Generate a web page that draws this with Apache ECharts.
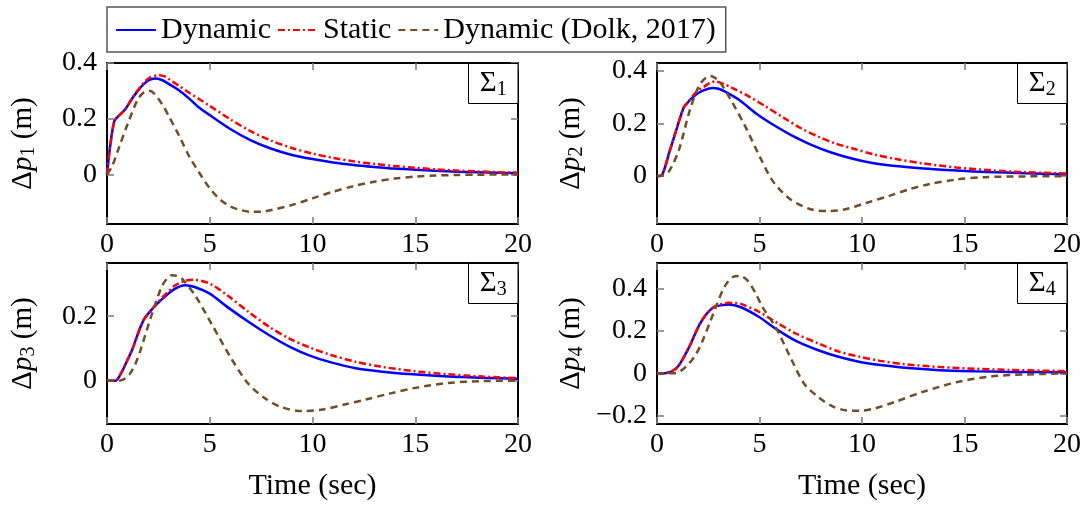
<!DOCTYPE html>
<html><head><meta charset="utf-8">
<script src="https://cdn.jsdelivr.net/npm/echarts@6/dist/echarts.min.js"></script>
<style>html,body{margin:0;padding:0;background:#fff}#c{width:1086px;height:505px}</style>
</head><body><div id="c"></div>
<script>
const FONT = '"Liberation Serif", "DejaVu Serif", serif';
const seriesNames = ['Dynamic', 'Static', 'Dynamic (Dolk, 2017)'];
const xTicks = [0, 5, 10, 15, 20];
const xTitle = 'Time (sec)';

// panel 1
const p1Dynamic = [[0,0],[0.15,0.1],[0.35,0.19],[0.5,0.205],[0.9,0.235],[1.2,0.27],[1.5,0.3],[1.8,0.325],[2.1,0.34],[2.4,0.344],[2.7,0.338],[3.0,0.325],[3.5,0.302],[4.0,0.272],[4.4,0.245],[5,0.213],[6,0.163],[7,0.122],[8,0.092],[9,0.07],[10,0.055],[11,0.043],[12,0.034],[13,0.027],[14,0.021],[15,0.017],[16,0.013],[17,0.01],[18,0.008],[19,0.006],[20,0.005]];
const p1Static = [[0,0],[0.15,0.1],[0.35,0.19],[0.5,0.205],[0.9,0.235],[1.2,0.27],[1.5,0.302],[1.8,0.33],[2.1,0.348],[2.5,0.356],[2.8,0.352],[3.0,0.343],[3.5,0.318],[4,0.293],[4.5,0.27],[5,0.246],[6,0.198],[7,0.155],[8,0.121],[9,0.095],[10,0.075],[11,0.059],[12,0.047],[13,0.038],[14,0.03],[15,0.024],[16,0.018],[17,0.014],[18,0.011],[19,0.008],[20,0.006]];
const p1Dolk = [[0,0],[0.25,0.03],[0.6,0.1],[1,0.18],[1.5,0.27],[1.8,0.295],[2.05,0.3],[2.3,0.29],[2.7,0.25],[3,0.21],[3.5,0.14],[4,0.065],[4.5,0.005],[5,-0.05],[5.5,-0.09],[6,-0.115],[6.5,-0.128],[7,-0.134],[7.5,-0.134],[8,-0.128],[9,-0.11],[10,-0.086],[11,-0.062],[12,-0.042],[13,-0.026],[14,-0.015],[15,-0.008],[16,-0.004],[17,-0.002],[18,-0.001],[20,0]];
const p1YRange = [-0.178, 0.4];
const p1YTicks = [0, 0.2, 0.4];

// panel 2
const p2Dynamic = [[0,0],[0.25,0.005],[0.6,0.09],[1.0,0.19],[1.3,0.26],[1.5,0.28],[1.75,0.3],[2.0,0.315],[2.3,0.327],[2.7,0.335],[3.0,0.332],[3.3,0.322],[4.0,0.29],[4.8,0.24],[5.65,0.196],[6.5,0.158],[7.5,0.12],[8.5,0.09],[9.5,0.067],[10.5,0.05],[11.5,0.039],[13,0.029],[14.5,0.022],[16,0.016],[18,0.011],[20,0.007]];
const p2Static = [[0,0],[0.25,0.005],[0.6,0.09],[1,0.19],[1.3,0.26],[1.5,0.28],[1.75,0.305],[2.0,0.325],[2.3,0.34],[2.6,0.355],[2.85,0.36],[3.2,0.352],[3.6,0.338],[4.5,0.302],[5.3,0.265],[6.2,0.221],[7,0.183],[7.9,0.149],[8.7,0.124],[9.6,0.104],[10.6,0.082],[11.6,0.066],[13,0.048],[14.6,0.033],[16.3,0.022],[18,0.015],[20,0.01]];
const p2Dolk = [[0,0],[0.3,0.003],[0.6,0.02],[1.07,0.1],[1.6,0.25],[2.1,0.35],[2.6,0.381],[2.8,0.375],[3.1,0.354],[3.6,0.29],[4.3,0.19],[5,0.076],[5.65,-0.019],[6.5,-0.088],[7.5,-0.126],[8.4,-0.133],[9.2,-0.126],[10.2,-0.102],[11.3,-0.076],[12.3,-0.05],[13.3,-0.03],[14.6,-0.013],[16,-0.004],[18,-0.001],[20,0]];
const p2YRange = [-0.182, 0.43];
const p2YTicks = [0, 0.2, 0.4];

// panel 3
const p3Dynamic = [[0,0],[0.4,0],[0.7,0.025],[1.0,0.065],[1.25,0.1],[1.5,0.145],[1.8,0.19],[2.1,0.215],[2.5,0.242],[2.8,0.26],[3.3,0.285],[3.8,0.296],[4.3,0.29],[5,0.27],[5.85,0.229],[6.9,0.182],[7.9,0.141],[8.9,0.105],[9.9,0.077],[10.9,0.057],[12.1,0.039],[13.3,0.029],[14.9,0.02],[16.6,0.013],[18.3,0.009],[20,0.006]];
const p3Static = [[0,0],[0.4,0],[0.7,0.025],[1.0,0.065],[1.25,0.1],[1.5,0.145],[1.8,0.19],[2.1,0.215],[2.5,0.245],[2.8,0.265],[3.3,0.295],[3.8,0.31],[4.2,0.313],[5,0.301],[5.85,0.265],[6.9,0.213],[7.9,0.167],[8.9,0.13],[9.9,0.102],[10.9,0.08],[12.1,0.059],[13.3,0.044],[14.9,0.03],[16.6,0.02],[18.3,0.013],[20,0.008]];
const p3Dolk = [[0,0],[0.6,0],[0.9,0.008],[1.13,0.023],[1.4,0.055],[1.63,0.095],[2.14,0.198],[2.65,0.29],[2.9,0.315],[3.15,0.327],[3.4,0.325],[3.66,0.316],[4.33,0.26],[5.17,0.167],[6,0.074],[6.86,-0.008],[7.7,-0.055],[8.5,-0.082],[9.5,-0.094],[10.5,-0.089],[11.6,-0.073],[12.6,-0.058],[13.8,-0.039],[15,-0.022],[16.6,-0.007],[18.3,-0.001],[20,0]];
const p3YRange = [-0.134, 0.365];
const p3YTicks = [0, 0.2];

// panel 4
const p4Dynamic = [[0,0],[0.4,0.001],[0.7,0.008],[1.0,0.03],[1.3,0.075],[1.6,0.13],[1.85,0.185],[2.1,0.235],[2.35,0.272],[2.6,0.3],[2.85,0.315],[3.1,0.321],[3.5,0.325],[4.1,0.312],[5,0.265],[5.8,0.21],[6.8,0.152],[7.9,0.108],[8.9,0.077],[9.9,0.054],[10.9,0.039],[12.1,0.026],[13.8,0.015],[15.5,0.01],[17.2,0.007],[20,0.005]];
const p4Static = [[0,0],[0.4,0.001],[0.7,0.008],[1.0,0.03],[1.3,0.075],[1.6,0.13],[1.85,0.185],[2.1,0.235],[2.35,0.272],[2.6,0.3],[2.85,0.317],[3.1,0.326],[3.45,0.333],[3.8,0.332],[4.1,0.328],[5,0.289],[5.8,0.242],[6.8,0.187],[7.9,0.14],[8.9,0.102],[9.9,0.078],[10.9,0.059],[12.1,0.043],[13.8,0.03],[15.5,0.022],[17.2,0.016],[20,0.011]];
const p4Dolk = [[0,0],[0.8,0],[1.1,0.008],[1.5,0.04],[1.9,0.09],[2.25,0.16],[2.6,0.245],[2.9,0.32],[3.3,0.41],[3.7,0.455],[4.04,0.46],[4.4,0.44],[4.8,0.38],[5.14,0.314],[5.82,0.212],[6.5,0.077],[7.18,-0.049],[7.86,-0.111],[8.54,-0.155],[9.2,-0.174],[9.9,-0.177],[10.6,-0.166],[11.6,-0.135],[12.95,-0.088],[14.65,-0.041],[16.35,-0.014],[18,-0.005],[20,0]];
const p4YRange = [-0.239, 0.521];
const p4YTicks = [-0.2, 0, 0.2, 0.4];

const panelData = [
  {series: [p1Dynamic, p1Static, p1Dolk], yRange: p1YRange, yTicks: p1YTicks, idx: '1'},
  {series: [p2Dynamic, p2Static, p2Dolk], yRange: p2YRange, yTicks: p2YTicks, idx: '2'},
  {series: [p3Dynamic, p3Static, p3Dolk], yRange: p3YRange, yTicks: p3YTicks, idx: '3'},
  {series: [p4Dynamic, p4Static, p4Dolk], yRange: p4YRange, yTicks: p4YTicks, idx: '4'}
];

// layout / style
const gridBoxes = [
  {left: 107, top: 63, width: 411, height: 161},
  {left: 657, top: 63, width: 410, height: 161},
  {left: 107, top: 263, width: 411, height: 161},
  {left: 657, top: 263, width: 410, height: 161}
];
const lineStyles = [
  {color: '#0000ff', width: 2.5, type: 'solid'},
  {color: '#ff0000', width: 2.5, type: [7, 3, 2, 3]},
  {color: '#734d26', width: 2.5, type: [7, 5]}
];
const frame = {show: true, onZero: false, lineStyle: {color: '#000', width: 2}};
const tickStyle = {color: '#808080', width: 1.6};
const fmt = v => (v < 0 ? '\u2212' + Math.abs(v) : String(v));
const richName = {
  d: {fontFamily: FONT, fontSize: 29, lineHeight: 32, color: '#000'},
  p: {fontFamily: FONT, fontSize: 29, lineHeight: 32, fontStyle: 'italic', color: '#000'},
  s: {fontFamily: FONT, fontSize: 20, lineHeight: 20, verticalAlign: 'bottom', color: '#000'},
  t: {fontFamily: FONT, fontSize: 29, lineHeight: 32, color: '#000'}
};

const grid = [], xAxis = [], yAxis = [], series = [], graphic = [];
panelData.forEach((pd, i) => {
  grid.push(Object.assign({containLabel: false}, gridBoxes[i]));
  const bottomRow = i >= 2;
  xAxis.push({
    type: 'value', gridIndex: i, position: 'bottom', min: 0, max: 20, interval: 5,
    axisLine: frame, splitLine: {show: false},
    axisTick: {show: true, inside: true, length: 7, lineStyle: tickStyle},
    axisLabel: {show: true, margin: 7, fontFamily: FONT, fontSize: 28, color: '#000', formatter: fmt},
    name: bottomRow ? xTitle : '', nameLocation: 'middle', nameGap: 47,
    nameTextStyle: {fontFamily: FONT, fontSize: 30, color: '#000'}
  });
  xAxis.push({
    type: 'value', gridIndex: i, position: 'top', min: 0, max: 20, interval: 5,
    axisLine: frame, splitLine: {show: false},
    axisTick: {show: true, inside: true, length: 7, lineStyle: tickStyle},
    axisLabel: {show: false}
  });
  yAxis.push({
    type: 'value', gridIndex: i, position: 'left', min: pd.yRange[0], max: pd.yRange[1],
    axisLine: frame, splitLine: {show: false},
    axisTick: {show: true, inside: true, length: 7, lineStyle: tickStyle, customValues: pd.yTicks},
    axisLabel: {show: true, margin: 10, fontFamily: FONT, fontSize: 28, color: '#000', formatter: fmt, customValues: pd.yTicks},
    name: '{d|\u0394}{p|p}{s|' + pd.idx + '}{t| (m)}', nameLocation: 'middle', nameRotate: 90,
    nameGap: (i % 2 === 0) ? 68 : 70,
    nameTextStyle: {fontFamily: FONT, fontSize: 29, color: '#000', rich: richName}
  });
  yAxis.push({
    type: 'value', gridIndex: i, position: 'right', min: pd.yRange[0], max: pd.yRange[1],
    axisLine: frame, splitLine: {show: false},
    axisTick: {show: true, inside: true, length: 7, lineStyle: tickStyle, customValues: pd.yTicks},
    axisLabel: {show: false, customValues: pd.yTicks}
  });
  pd.series.forEach((d, k) => {
    series.push({
      type: 'line', name: seriesNames[k], xAxisIndex: 2 * i, yAxisIndex: 2 * i,
      data: d, symbol: 'none', showSymbol: false, smooth: 0.3, clip: true,
      lineStyle: lineStyles[k], itemStyle: {color: lineStyles[k].color},
      emphasis: {disabled: true}, animation: false, z: 2 + k
    });
  });
  const g = gridBoxes[i];
  const bx = g.left + g.width - 49.5, by = g.top + 0.5;
  graphic.push({type: 'rect', z: 100, shape: {x: bx, y: by, width: 49.5, height: 40},
    style: {fill: '#fff', stroke: '#000', lineWidth: 1}});
  graphic.push({type: 'text', z: 101, x: bx + 24.75, y: by + 20,
    style: {text: '{a|\u03a3}{b|' + pd.idx + '}', align: 'center', verticalAlign: 'middle',
      rich: {a: {fontFamily: FONT, fontSize: 29, lineHeight: 32, fill: '#000', color: '#000'},
             b: {fontFamily: FONT, fontSize: 20, lineHeight: 20, verticalAlign: 'bottom', fill: '#000', color: '#000'}}}});
});

const chart = echarts.init(document.getElementById('c'), null, {renderer: 'canvas'});
chart.setOption({
  backgroundColor: '#fff',
  animation: false,
  legend: {
    data: seriesNames, left: 107, top: 7, orient: 'horizontal',
    padding: [8, 10, 7, 8], itemGap: 6, itemWidth: 40, itemHeight: 14,
    itemStyle: {opacity: 0, borderWidth: 0},
    borderColor: '#555', borderWidth: 1.5, backgroundColor: '#fff',
    textStyle: {fontFamily: FONT, fontSize: 30, color: '#000'},
    selectedMode: false
  },
  grid, xAxis, yAxis, series, graphic
});
</script></body></html>
